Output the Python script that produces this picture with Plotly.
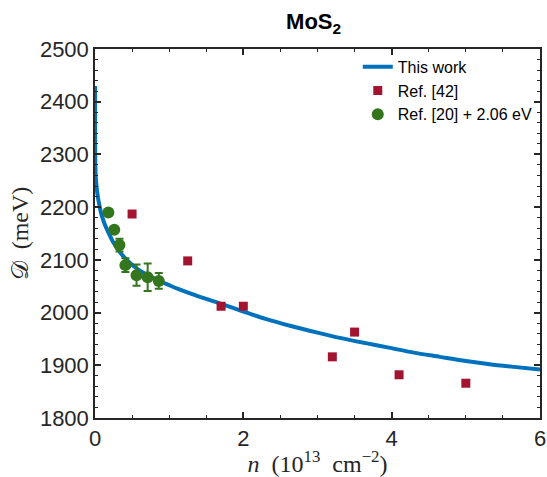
import plotly.graph_objects as go

# Theory curve ("This work")
curve_n = [0.0, 0.0005, 0.001, 0.002, 0.004, 0.007, 0.012, 0.02, 0.03, 0.045, 0.06, 0.08, 0.1, 0.13,
           0.18, 0.24, 0.31, 0.38, 0.45, 0.55, 0.67, 0.78, 0.9, 1.0, 1.12, 1.35, 1.71, 2.0, 2.3,
           2.63, 3.0, 3.3, 3.65, 3.98, 4.3, 4.65, 5.0, 5.32, 5.65, 6.0]
curve_D = [2430, 2380, 2345, 2310, 2285, 2268, 2253, 2240, 2228, 2214, 2203, 2190, 2180, 2168,
           2152, 2135, 2120, 2107, 2097, 2085, 2074, 2066, 2058, 2052, 2045, 2033, 2016, 2002, 1988,
           1975, 1962, 1952, 1942, 1933, 1924, 1916, 1908, 1902, 1897, 1892]

# Ref. [42]
ref42_n = [0.5, 1.25, 1.7, 2.0, 3.2, 3.5, 4.1, 5.0]
ref42_D = [2187, 2098, 2012, 2012, 1916, 1963, 1882, 1866]

# Ref. [20] + 2.06 eV
ref20_n = [0.18, 0.26, 0.33, 0.41, 0.56, 0.71, 0.86]
ref20_D = [2190, 2157, 2128, 2090, 2071, 2067, 2060]
ref20_err = [4, 4, 12, 13, 20, 26, 15]
ref20_xerr = [0.02, 0.02, 0.02, 0.02, 0.02, 0.02, 0.02]

blue = "rgb(0,114,189)"
red = "rgb(162,20,47)"
green = "rgb(52,118,30)"
axc = "#262626"

fig = go.Figure()
fig.add_trace(go.Scatter(x=curve_n, y=curve_D, mode="lines", name="This work",
                         line=dict(color=blue, width=4, shape="spline", smoothing=0.8)))
fig.add_trace(go.Scatter(x=ref42_n, y=ref42_D, mode="markers", name="Ref. [42]",
                         marker=dict(symbol="square", size=9, color=red)))
fig.add_trace(go.Scatter(x=ref20_n, y=ref20_D, mode="markers", name="Ref. [20] + 2.06 eV",
                         marker=dict(symbol="circle", size=12, color=green),
                         error_y=dict(type="data", array=ref20_err, color=green, thickness=2, width=4),
                         error_x=dict(type="data", array=ref20_xerr, color=green, thickness=2, width=3)))

axis_common = dict(showline=True, linecolor=axc, linewidth=1.5, mirror="ticks",
                   ticks="inside", tickcolor=axc, ticklen=6, tickwidth=1.5,
                   showgrid=False, zeroline=False, automargin=False,
                   tickfont=dict(family="Liberation Sans, Arial", size=22, color=axc))

fig.update_xaxes(range=[0, 6], tickvals=[0, 2, 4, 6],
                 minor=dict(ticks="inside", dtick=0.5, ticklen=3, tickcolor=axc, tickwidth=1.2),
                 title=dict(text="<i>n</i>  (10<sup>13</sup>  cm<sup>−2</sup>)",
                            font=dict(family="Liberation Serif, DejaVu Serif", size=24, color=axc),
                            standoff=0),
                 **axis_common)
fig.update_yaxes(range=[1800, 2500], tickvals=[1800, 1900, 2000, 2100, 2200, 2300, 2400, 2500],
                 minor=dict(ticks="inside", dtick=20, ticklen=3, tickcolor=axc, tickwidth=1.2),
                 title=dict(text="𝒟  (meV)",
                            font=dict(family="Liberation Serif, DejaVu Serif", size=24, color=axc),
                            standoff=4),
                 **axis_common)

fig.update_layout(
    width=547, height=477,
    margin=dict(l=95, r=7, t=49, b=59),
    plot_bgcolor="white", paper_bgcolor="white",
    title=dict(text="<b>MoS<sub>2</sub></b>", x=0.523, xanchor="left", y=0.955, yanchor="middle",
               font=dict(family="Liberation Sans, Arial", size=22, color="black")),
    legend=dict(x=0.995, y=0.998, xanchor="right", yanchor="top", bgcolor="rgba(255,255,255,0)",
                font=dict(family="Liberation Sans, Arial", size=16, color="black"),
                tracegroupgap=0, itemwidth=30),
    showlegend=True,
)

fig.write_html("out.html")
